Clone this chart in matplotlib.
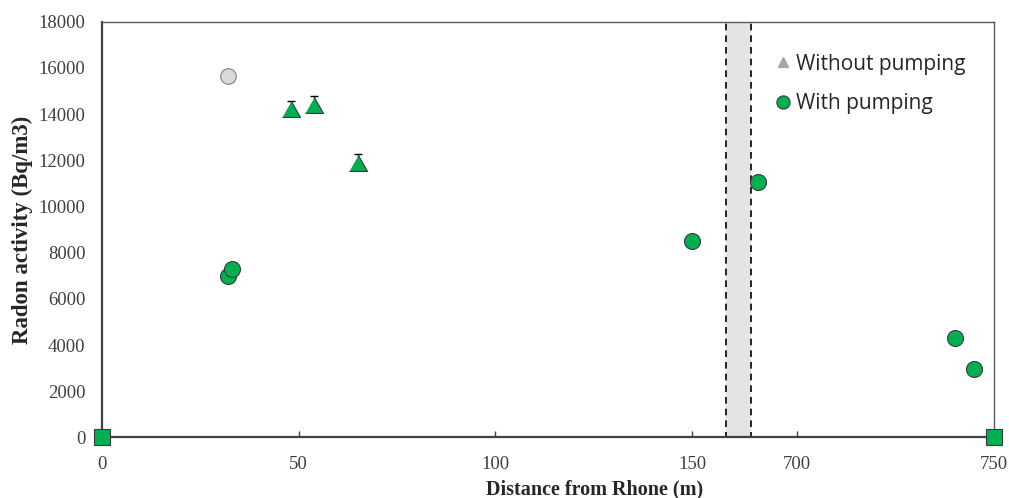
import numpy as np
import matplotlib
matplotlib.use("Agg")
import matplotlib.pyplot as plt
from matplotlib.lines import Line2D

# distances from the Rhone (m) and radon activity (Bq/m3)
dist_without = [48, 54, 65]
radon_without = [14200, 14400, 11900]
err_without = [350, 400, 350]

dist_with = [32, 33, 150, 690, 740, 745]
radon_with = [7000, 7300, 8500, 11050, 4300, 2950]

dist_grey = [32]
radon_grey = [15650]

dist_ends = [0, 750]
radon_ends = [0, 0]

xticks = [0, 50, 100, 150, 700, 750]
yticks = np.arange(0, 18001, 2000)

# broken x axis: 0-158.5 kept as is, gap squeezed, 688.2-750 shifted left
brk_true = [0, 158.5, 688.2, 800]
brk_axis = [0, 158.5, 164.9, 276.7]

def fwd(x):
    return np.interp(x, brk_true, brk_axis)

def inv(x):
    return np.interp(x, brk_axis, brk_true)

serif = "Liberation Serif"
green = "#00B050"
edge = "#3a3a3a"
tri = [(-1, -0.88), (1, -0.88), (0, 0.88)]

fig = plt.figure(figsize=(10.09, 4.98), dpi=100)
ax = fig.add_axes([0.1011, 0.1215, 0.8840, 0.8350])
ax.set_xscale("function", functions=(fwd, inv))
ax.set_xlim(0, 750)
ax.set_ylim(0, 18000)

# gap marker
ax.axvspan(brk_true[1], brk_true[2], facecolor="#E4E4E4", edgecolor="black",
           linestyle=(0, (4, 3)), linewidth=1.2, zorder=1)

ax.errorbar(dist_without, radon_without, yerr=[[0, 0, 0], err_without],
            fmt="none", ecolor="black", elinewidth=1, capsize=2.8, zorder=3)
ax.plot(dist_without, radon_without, linestyle="none", marker=tri,
        markersize=13, markerfacecolor=green, markeredgecolor=edge,
        markeredgewidth=0.8, zorder=4)
ax.plot(dist_grey, radon_grey, linestyle="none", marker="o", markersize=11.2,
        markerfacecolor="#D9D9D9", markeredgecolor="#7f7f7f",
        markeredgewidth=0.8, zorder=4)
ax.plot(dist_with, radon_with, linestyle="none", marker="o", markersize=11.5,
        markerfacecolor=green, markeredgecolor=edge, markeredgewidth=0.8,
        zorder=4)
ax.plot(dist_ends, radon_ends, linestyle="none", marker="s", markersize=12,
        markerfacecolor=green, markeredgecolor=edge, markeredgewidth=0.8,
        zorder=6, clip_on=False)

ax.set_xticks(xticks)
ax.set_xticklabels([str(t) for t in xticks])
ax.set_yticks(yticks)
ax.set_yticklabels([str(t) for t in yticks])
ax.tick_params(axis="x", direction="in", length=4, width=1, color="#404040",
               labelsize=13.5, labelcolor="#404040", pad=13)
ax.tick_params(axis="y", length=0, labelsize=13.5, labelcolor="#404040", pad=12)
for lab in ax.get_xticklabels() + ax.get_yticklabels():
    lab.set_family(serif)

for side in ["left", "bottom"]:
    ax.spines[side].set_color("#404040")
    ax.spines[side].set_linewidth(1.6)
for side in ["top", "right"]:
    ax.spines[side].set_color("#595959")
    ax.spines[side].set_linewidth(1.0)

ax.set_xlabel("Distance from Rhone (m)", family=serif, fontweight="bold",
              fontsize=14.5, color="#262626")
ax.xaxis.set_label_coords(0.552, -0.100)
ax.set_ylabel("Radon activity (Bq/m3)", family=serif, fontweight="bold",
              fontsize=16.5, color="#262626")
ax.yaxis.set_label_coords(-0.077, 0.5)

handles = [
    Line2D([], [], linestyle="none", marker="^", markersize=7,
           markerfacecolor="#A6A6A6", markeredgecolor="#A6A6A6"),
    Line2D([], [], linestyle="none", marker="o", markersize=9.5,
           markerfacecolor=green, markeredgecolor=edge, markeredgewidth=0.8),
]
leg = ax.legend(handles, ["Without pumping", "With pumping"], loc="upper left",
                bbox_to_anchor=(0.743, 0.943), frameon=False,
                prop={"family": "Open Sans", "size": 15}, handletextpad=0.1,
                handlelength=1.0, labelspacing=0.9, borderaxespad=0)
for t in leg.get_texts():
    t.set_color("#262626")

fig.savefig("out.png", dpi=100)
